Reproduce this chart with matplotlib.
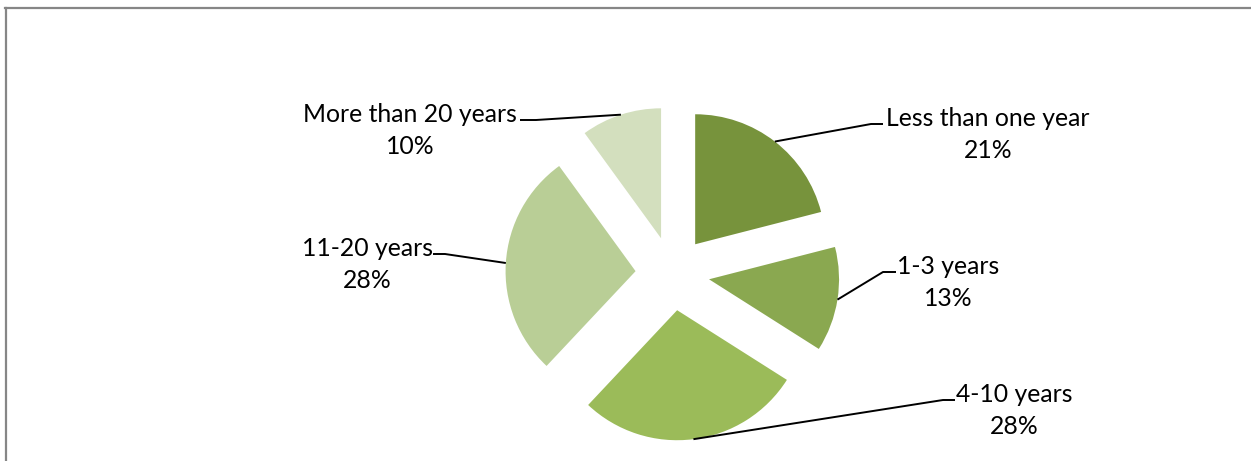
import matplotlib
matplotlib.use("Agg")
import matplotlib.pyplot as plt
import numpy as np

categories = ["Less than one year", "1-3 years", "4-10 years", "11-20 years", "More than 20 years"]
values = [21, 13, 28, 28, 10]
pct_labels = ["21%", "13%", "28%", "28%", "10%"]
colors = ["#77933C", "#8AA850", "#9BBB59", "#B9CE96", "#D3DFBE"]

W, H = 1251, 461
fig = plt.figure(figsize=(W / 100, H / 100), dpi=100)
ax = fig.add_axes([0, 0, 1, 1])

cx, cy = 672.5, H - 273.5
R = 130
wedges, _ = ax.pie(values, colors=colors, startangle=90, counterclock=False,
                   explode=[37] * len(values), center=(cx, cy), radius=R,
                   wedgeprops=dict(linewidth=0))
ax.set_xlim(0, W)
ax.set_ylim(0, H)
ax.set_aspect("auto")
ax.axis("off")

# label layout (screen pixel coords, y down): text center x, baseline y of line 1, line 2
label_pos = [(988, 126, 158), (948, 274, 306), (1014, 402, 434), (367, 256, 288), (410, 122, 154)]
# leader elbow: (elbow x, elbow y, end x of short horizontal)
elbows = [(871, 124, 883), (883, 272, 896), (943, 400, 955), (445, 254, 433), (536, 120, 520)]

font = dict(family=["Lato", "DejaVu Sans"], fontsize=17.8, color="black")
for w, cat, pct, (tx, b1, b2), (ex, ey, hx) in zip(wedges, categories, pct_labels, label_pos, elbows):
    ax.text(tx, H - b1, cat, ha="center", va="baseline", **font)
    ax.text(tx, H - b2, pct, ha="center", va="baseline", **font)
    mid = np.deg2rad((w.theta1 + w.theta2) / 2)
    wx, wy = w.center
    ax_pt = (wx + w.r * np.cos(mid), wy + w.r * np.sin(mid))
    ax.plot([ax_pt[0], ex, hx], [ax_pt[1], H - ey, H - ey], color="black", lw=1.4,
            solid_capstyle="butt")

# chart frame (left and top edges visible)
fig.add_artist(plt.Line2D([5.5 / W, 5.5 / W], [0, 1 - 8.5 / H], transform=fig.transFigure,
                          color="#868686", lw=1.6))
fig.add_artist(plt.Line2D([4.7 / W, 1.01], [1 - 8.5 / H, 1 - 8.5 / H], transform=fig.transFigure,
                          color="#868686", lw=1.6))

fig.savefig("out.png", dpi=100, facecolor="white")
